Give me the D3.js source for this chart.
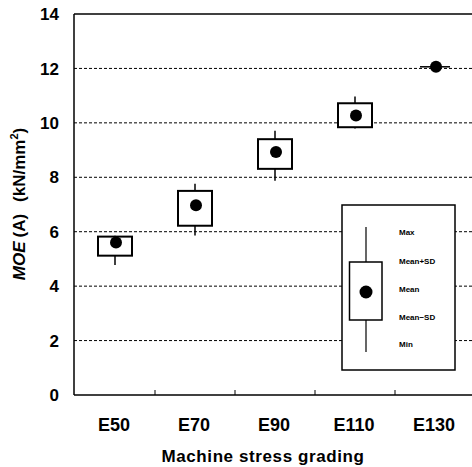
<!DOCTYPE html>
<html><head><meta charset="utf-8">
<script src="https://cdn.jsdelivr.net/npm/d3@7"></script>
<style>body{margin:0;background:#fff}svg{display:block}text{font-family:"Liberation Sans",Arial,sans-serif;font-weight:bold;fill:#000}</style>
</head><body><div id="chart"></div>
<script>
const categories = ["E50","E70","E90","E110","E130"];
const meanVals = [5.6, 6.97, 8.93, 10.27, 12.06];
const sdLow  = [5.12, 6.22, 8.31, 9.84, 12.06];
const sdHigh = [5.82, 7.5, 9.4, 10.72, 12.06];
const minVals = [4.78, 5.86, 7.87, 9.79, 12.06];
const maxVals = [5.85, 7.76, 9.71, 10.97, 12.06];
const yTicks = [0,2,4,6,8,10,12,14];
const legendLabels = ["Max","Mean+SD","Mean","Mean\u2212SD","Min"];

(function(){
const W = 472, H = 467;
const svg = d3.select("#chart").append("svg").attr("width", W).attr("height", H);
const pL = 74, pT = 14, pB = 395, pR = 475;
const x = d3.scaleBand().domain(categories).range([75, 475]).padding(0);
const y = d3.scaleLinear().domain([0,14]).range([pB, pT]);

// gridlines
svg.append("g").selectAll("line").data(yTicks.filter(t => t > 0 && t < 14)).join("line")
  .attr("x1", pL).attr("x2", pR).attr("y1", d => y(d)).attr("y2", d => y(d))
  .attr("stroke", "#000").attr("stroke-width", 1).attr("stroke-dasharray", "3,2");

// frame
svg.append("line").attr("x1", pL).attr("x2", pR).attr("y1", pT).attr("y2", pT).attr("stroke","#000").attr("stroke-width",1.5);
svg.append("line").attr("x1", pL).attr("x2", pL).attr("y1", pT).attr("y2", pB).attr("stroke","#000").attr("stroke-width",1.5);
svg.append("line").attr("x1", pL).attr("x2", pR).attr("y1", pB).attr("y2", pB).attr("stroke","#000").attr("stroke-width",1.5);

// x ticks inward at band boundaries
svg.append("g").selectAll("line").data(categories.slice(1)).join("line")
  .attr("x1", d => x(d)).attr("x2", d => x(d)).attr("y1", pB).attr("y2", pB - 5)
  .attr("stroke","#000").attr("stroke-width",1);

// y tick labels
svg.append("g").selectAll("text").data(yTicks).join("text")
  .attr("x", 59).attr("y", d => y(d)).attr("dy", "0.36em")
  .attr("text-anchor","end").attr("font-size", 17).text(d => d);

// x labels
svg.append("g").selectAll("text").data(categories).join("text")
  .attr("x", d => x(d) + x.bandwidth()/2 - 1).attr("y", 431)
  .attr("text-anchor","middle").attr("font-size", 18).text(d => d);

svg.append("text").attr("x", 263).attr("y", 462).attr("text-anchor","middle")
  .attr("font-size", 17).attr("letter-spacing", 0.6).text("Machine stress grading");

const yt = svg.append("text").attr("transform","translate(25,204) rotate(-90)")
  .attr("text-anchor","middle").attr("font-size", 17);
yt.append("tspan").attr("font-style","italic").text("MOE");
yt.append("tspan").attr("dx", 4).text("(A)");
yt.append("tspan").attr("dx", 12).text("(kN/mm");
yt.append("tspan").attr("font-size", 11).attr("dy", -7).text("2");
yt.append("tspan").attr("dy", 7).text(")");

// boxes
const bw = 34;
const g = svg.append("g");
categories.forEach((c, i) => {
  const cx = x(c) + x.bandwidth()/2;
  g.append("line").attr("x1", cx).attr("x2", cx).attr("y1", y(maxVals[i])).attr("y2", y(sdHigh[i]))
    .attr("stroke","#000").attr("stroke-width",1.5);
  g.append("line").attr("x1", cx).attr("x2", cx).attr("y1", y(sdLow[i])).attr("y2", y(minVals[i]))
    .attr("stroke","#000").attr("stroke-width",1.5);
  const h = y(sdLow[i]) - y(sdHigh[i]);
  if (h > 0.5) {
    g.append("rect").attr("x", cx - bw/2).attr("y", y(sdHigh[i]))
      .attr("width", bw).attr("height", h)
      .attr("fill","#fff").attr("stroke","#000").attr("stroke-width",2);
  } else {
    g.append("line").attr("x1", cx - 15).attr("x2", cx + 15)
      .attr("y1", y(sdHigh[i])).attr("y2", y(sdHigh[i]))
      .attr("stroke","#000").attr("stroke-width",1.5);
  }
  g.append("circle").attr("cx", cx + 1).attr("cy", y(meanVals[i])).attr("r", 6).attr("fill","#000");
});

// legend
const lg = svg.append("g");
lg.append("rect").attr("x", 342).attr("y", 205).attr("width", 113).attr("height", 165)
  .attr("fill","#fff").attr("stroke","#000").attr("stroke-width",1.5);
const lx = 366;
const ly = [227, 262, 292, 320, 352];
lg.append("line").attr("x1", lx).attr("x2", lx).attr("y1", ly[0]).attr("y2", ly[4]).attr("stroke","#000").attr("stroke-width",1.2);
lg.append("rect").attr("x", 349.5).attr("y", ly[1]).attr("width", 32.5).attr("height", ly[3]-ly[1])
  .attr("fill","#fff").attr("stroke","#000").attr("stroke-width",1.5);
lg.append("circle").attr("cx", lx).attr("cy", ly[2]).attr("r", 6.5).attr("fill","#000");
const labY = [232, 261, 289, 317, 344];
lg.selectAll("text.l").data(legendLabels).join("text").attr("class","l")
  .attr("x", 399).attr("y", (d,i) => labY[i]).attr("dy","0.35em")
  .attr("font-size", 8).text(d => d);
})();
</script></body></html>
